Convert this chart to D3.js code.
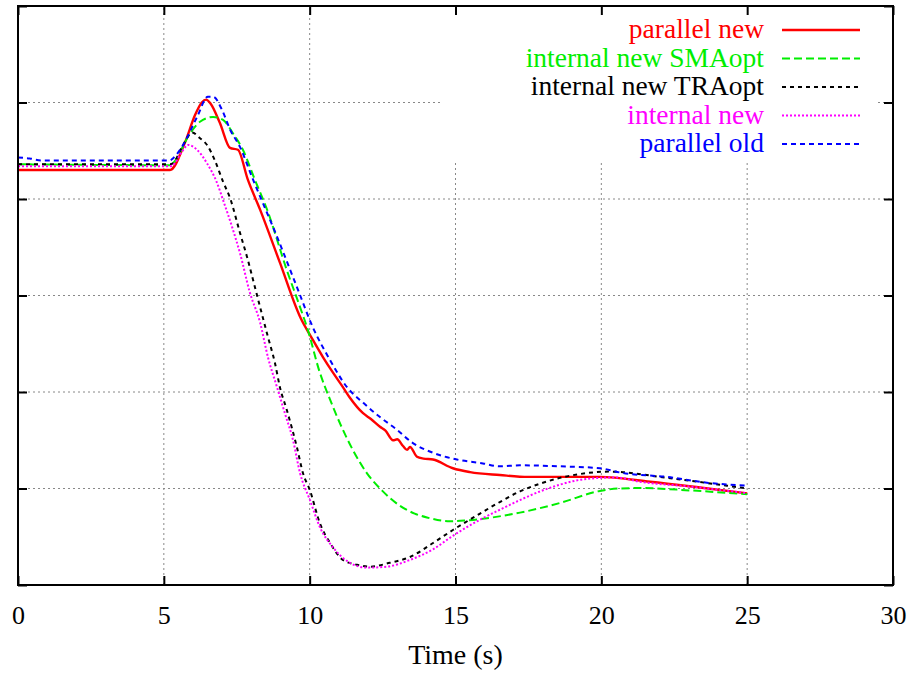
<!DOCTYPE html>
<html>
<head>
<meta charset="utf-8">
<script src="https://cdn.jsdelivr.net/npm/d3@7"></script>
<style>
  html, body { margin: 0; padding: 0; background: #fff; }
  svg text { font-family: "Liberation Serif", "Times New Roman", serif; }
</style>
</head>
<body>
<svg id="chart" width="912" height="673"></svg>
<script>
// ---------------------------------------------------------
// Time response of five controller variants (0–25 s)
// y axis carries no labels in the source, values in grid units
// ---------------------------------------------------------

const X_TICKS = [0, 5, 10, 15, 20, 25, 30];
const Y_TICKS = [0, 1, 2, 3, 4, 5, 6];
const X_LABEL = "Time (s)";

// [time, value]
const parallelNew = [
  [0, 4.30], [5.21, 4.30], [5.73, 4.59], [6.07, 4.87], [6.3, 5.0], [6.45, 5.03],
  [6.6, 4.99], [6.92, 4.79], [7.27, 4.53], [7.54, 4.51], [7.88, 4.20], [8.30, 3.89],
  [8.98, 3.34], [9.67, 2.78], [10.11, 2.54], [10.46, 2.36], [10.80, 2.20], [11.14, 2.05],
  [11.38, 1.94], [11.83, 1.78], [12.1, 1.72], [12.41, 1.64], [12.6, 1.60], [12.86, 1.50],
  [13.0, 1.51], [13.2, 1.44], [13.34, 1.40], [13.44, 1.43], [13.68, 1.33], [13.9, 1.31],
  [14.23, 1.30], [14.91, 1.21], [15.5, 1.17], [16.52, 1.14], [17.5, 1.12], [19.95, 1.12],
  [21.67, 1.07], [23.38, 1.01], [25, 0.95]
];

const internalNewSMAopt = [
  [0, 4.36], [5.21, 4.35], [5.31, 4.37], [5.90, 4.68], [6.24, 4.80], [6.69, 4.85],
  [7.03, 4.82], [7.37, 4.68], [7.71, 4.51], [8.12, 4.20], [8.54, 3.89], [9.22, 3.26],
  [9.67, 2.88], [9.91, 2.67], [10.35, 2.20], [10.70, 1.92], [11.48, 1.40], [11.96, 1.16],
  [12.51, 0.97], [13.10, 0.82], [13.6, 0.74], [14.02, 0.70], [14.81, 0.66], [15.39, 0.67],
  [17.21, 0.75], [18.58, 0.85], [19.95, 0.975], [20.6, 1.0], [21.32, 1.005], [23.04, 0.98],
  [25, 0.94]
];

const internalNewTRAopt = [
  [0, 4.36], [5.21, 4.36], [5.31, 4.37], [5.66, 4.56], [5.97, 4.69], [6.24, 4.63],
  [6.48, 4.56], [6.75, 4.40], [7.03, 4.18], [7.27, 4.01], [7.61, 3.65], [7.88, 3.37],
  [8.12, 3.09], [8.30, 2.88], [8.57, 2.57], [8.81, 2.30], [8.98, 2.05], [9.22, 1.81],
  [9.56, 1.43], [9.77, 1.16], [10.01, 0.98], [10.35, 0.64], [10.70, 0.435], [11.14, 0.26],
  [11.62, 0.21], [12.07, 0.19], [12.75, 0.23], [13.44, 0.29], [14.23, 0.435], [14.91, 0.57],
  [15.84, 0.74], [16.52, 0.86], [17.21, 0.97], [17.90, 1.05], [18.58, 1.11], [19.27, 1.15],
  [20.3, 1.175], [22.25, 1.11], [25, 1.0]
];

const internalNew = [
  [0, 4.34], [5.21, 4.34], [5.31, 4.35], [5.62, 4.49], [5.83, 4.56], [6.14, 4.51],
  [6.48, 4.37], [6.82, 4.17], [7.03, 3.99], [7.34, 3.71], [7.61, 3.44], [7.95, 3.03],
  [8.30, 2.72], [8.57, 2.36], [8.88, 2.05], [9.15, 1.78], [9.43, 1.50], [9.67, 1.16],
  [10.01, 0.88], [10.35, 0.60], [10.80, 0.39], [11.38, 0.23], [11.96, 0.18], [12.65, 0.19],
  [13.44, 0.26], [14.23, 0.37], [14.91, 0.51], [15.74, 0.66], [16.52, 0.78], [17.21, 0.88],
  [17.90, 0.97], [18.58, 1.04], [19.27, 1.09], [19.95, 1.11], [20.5, 1.115], [21.32, 1.07],
  [23.04, 1.02], [25, 0.95]
];

const parallelOld = [
  [0, 4.43], [0.4, 4.42], [0.8, 4.40], [5.21, 4.40], [5.31, 4.42], [5.62, 4.54],
  [6.14, 4.85], [6.51, 5.06], [6.69, 5.06], [7.0, 4.92], [7.27, 4.72], [7.61, 4.54],
  [8.06, 4.20], [8.88, 3.61], [9.56, 3.09], [10.11, 2.67], [10.70, 2.33], [11.28, 2.05],
  [11.83, 1.89], [12.41, 1.74], [12.99, 1.61], [13.54, 1.47], [14.23, 1.37], [15.05, 1.30],
  [15.94, 1.26], [16.52, 1.23], [17.21, 1.24], [18.58, 1.23], [19.95, 1.21], [20.74, 1.16],
  [22.25, 1.12], [23.62, 1.06], [25, 1.03]
];

const SERIES_NAMES = ["parallel new", "internal new SMAopt", "internal new TRAopt", "internal new", "parallel old"];
const SERIES_DATA  = [parallelNew, internalNewSMAopt, internalNewTRAopt, internalNew, parallelOld];

// styles (gnuplot-ish line types)
const STYLES = [
  { color: "#ff0000", dash: null,  width: 2.4 },
  { color: "#00ee00", dash: "8,4", width: 2 },
  { color: "#000000", dash: "4,4", width: 2 },
  { color: "#ff00ff", dash: "2,2", width: 2 },
  { color: "#0000ff", dash: "5,4", width: 2 }
];

// ---------------------------------------------------------
// LAYOUT
// ---------------------------------------------------------
const svg = d3.select("#chart");
const plotLeft = 18, plotRight = 893, plotTop = 6, plotBottom = 585;

const x = d3.scaleLinear().domain([0, 30]).range([plotLeft, plotRight]);
const y = d3.scaleLinear().domain([0, 6]).range([plotBottom, plotTop]);

// grid
const grid = svg.append("g")
  .attr("stroke", "#888")
  .attr("stroke-width", 1)
  .attr("stroke-dasharray", "2,3");

grid.selectAll("line.vx")
  .data(X_TICKS.slice(1, -1))
  .enter().append("line")
  .attr("x1", d => x(d)).attr("x2", d => x(d))
  .attr("y1", plotBottom).attr("y2", plotTop);

grid.selectAll("line.hy")
  .data(Y_TICKS.slice(1, -1))
  .enter().append("line")
  .attr("x1", plotLeft).attr("x2", plotRight)
  .attr("y1", d => y(d)).attr("y2", d => y(d));

// key box blanks the grid behind it
svg.append("rect")
  .attr("x", 441).attr("y", plotTop + 2)
  .attr("width", 436).attr("height", 152)
  .attr("fill", "#fff");

// ---------------------------------------------------------
// CURVES
// ---------------------------------------------------------
const line = d3.line()
  .x(d => x(d[0]))
  .y(d => y(d[1]))
  .curve(d3.curveMonotoneX);

SERIES_DATA.forEach((data, i) => {
  const s = STYLES[i];
  svg.append("path")
    .datum(data)
    .attr("d", line)
    .attr("fill", "none")
    .attr("stroke", s.color)
    .attr("stroke-width", s.width)
    .attr("stroke-dasharray", s.dash)
    .attr("stroke-linejoin", "round");
});

// ---------------------------------------------------------
// FRAME + TICKS
// ---------------------------------------------------------
const TICK = 9;

svg.append("g")
  .attr("transform", `translate(0,${plotBottom})`)
  .call(d3.axisBottom(x).tickValues(X_TICKS).tickSize(-TICK).tickPadding(TICK + 12).tickFormat(d3.format("d")))
  .call(g => g.select(".domain").remove())
  .call(g => g.selectAll("line").attr("stroke", "#000").attr("stroke-width", 2))
  .call(g => g.selectAll("text").attr("font-size", 26).attr("fill", "#000")
    .attr("font-family", "Liberation Serif"));

svg.append("g")
  .attr("transform", `translate(0,${plotTop})`)
  .call(d3.axisTop(x).tickValues(X_TICKS).tickSize(-TICK).tickFormat(""))
  .call(g => g.select(".domain").remove())
  .call(g => g.selectAll("line").attr("stroke", "#000").attr("stroke-width", 2));

svg.append("g")
  .attr("transform", `translate(${plotLeft},0)`)
  .call(d3.axisLeft(y).tickValues(Y_TICKS).tickSize(-TICK).tickFormat(""))
  .call(g => g.select(".domain").remove())
  .call(g => g.selectAll("line").attr("stroke", "#000").attr("stroke-width", 2));

svg.append("g")
  .attr("transform", `translate(${plotRight},0)`)
  .call(d3.axisRight(y).tickValues(Y_TICKS).tickSize(-TICK).tickFormat(""))
  .call(g => g.select(".domain").remove())
  .call(g => g.selectAll("line").attr("stroke", "#000").attr("stroke-width", 2));

svg.append("rect")
  .attr("x", plotLeft).attr("y", plotTop)
  .attr("width", plotRight - plotLeft).attr("height", plotBottom - plotTop)
  .attr("fill", "none")
  .attr("stroke", "#000")
  .attr("stroke-width", 2);

// axis title
svg.append("text")
  .attr("x", (plotLeft + plotRight) / 2)
  .attr("y", 664)
  .attr("text-anchor", "middle")
  .attr("font-size", 28)
  .text(X_LABEL);

// ---------------------------------------------------------
// LEGEND
// ---------------------------------------------------------
const legend = svg.append("g");
SERIES_NAMES.forEach((name, i) => {
  const s = STYLES[i];
  const ly = 30 + i * 28.5;
  legend.append("text")
    .attr("x", 764)
    .attr("y", ly + 8)
    .attr("text-anchor", "end")
    .attr("font-size", 27.5)
    .attr("fill", s.color)
    .text(name);
  legend.append("line")
    .attr("x1", 782).attr("x2", 860)
    .attr("y1", ly).attr("y2", ly)
    .attr("stroke", s.color)
    .attr("stroke-width", s.width)
    .attr("stroke-dasharray", s.dash);
});
</script>
</body>
</html>
